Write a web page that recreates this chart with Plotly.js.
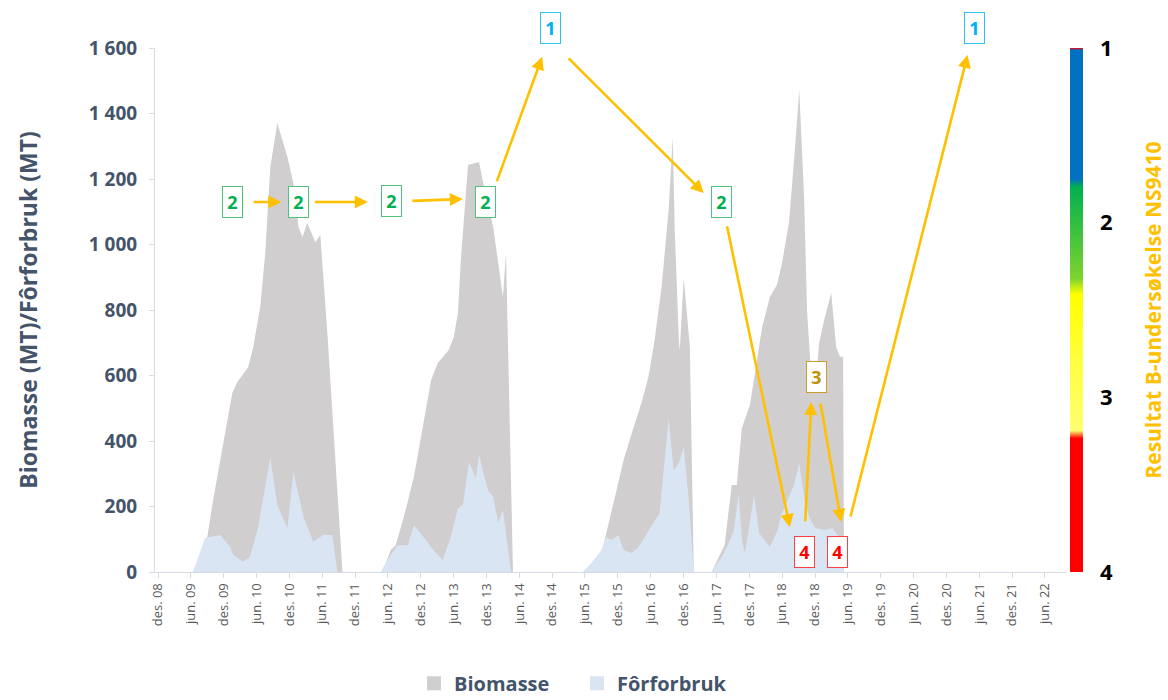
<!DOCTYPE html>
<html><head><meta charset="utf-8">
<script src="https://cdn.plot.ly/plotly-3.0.1.min.js"></script>
<style>html,body{margin:0;padding:0;background:#fff}#chart{width:1168px;height:700px}</style>
</head><body><div id="chart"></div>
<script>
// ---------- DATA ----------
const biomassDates = [
 '2009-06-13','2009-09-01','2009-10-03','2009-11-28','2010-01-18','2010-02-15','2010-04-16','2010-05-13','2010-06-22','2010-07-20','2010-08-17','2010-09-25','2010-11-20','2010-12-23','2011-01-21','2011-02-12','2011-03-10','2011-04-24','2011-05-22','2011-06-30','2011-08-03','2011-09-22',
 '2012-05-02','2012-06-16','2012-07-14','2012-08-28','2012-10-23','2012-12-12','2013-01-27','2013-03-05','2013-05-05','2013-06-02','2013-06-25','2013-07-11','2013-08-20','2013-10-20','2013-11-17','2014-01-07','2014-02-04','2014-03-02','2014-03-19','2014-04-05','2014-04-27',
 '2015-05-22','2015-07-06','2015-09-01','2015-09-28','2015-11-12','2016-01-02','2016-02-16','2016-04-10','2016-05-19','2016-06-22','2016-07-31','2016-09-08','2016-10-01','2016-10-12','2016-11-04','2016-11-09','2016-12-01','2016-12-18','2017-01-04','2017-01-26',
 '2017-05-05','2017-07-16','2017-08-25','2017-09-22','2017-10-20','2017-12-04','2018-01-02','2018-02-10','2018-03-25','2018-05-03','2018-05-31','2018-07-09','2018-08-12','2018-09-04','2018-10-01','2018-10-18','2018-11-10','2018-12-02','2018-12-24','2019-01-21','2019-03-01','2019-03-28','2019-04-19','2019-05-06','2019-05-11'
];
const biomassValues = [
 0,107,220,394,547,580,626,684,809,974,1237,1371,1267,1188,1053,1023,1066,1008,1029,730,424,0,
 0,67,82,168,290,443,586,638,678,718,791,953,1243,1252,1176,1053,943,840,974,577,0,
 0,27,58,119,220,342,424,516,596,708,870,1105,1328,1044,708,678,898,791,687,0,
 0,82,266,266,440,510,608,748,840,876,943,1066,1298,1472,1145,791,600,560,700,770,852,687,657,657,0
];
const feedDates = [
 '2009-06-13','2009-08-19','2009-11-11','2010-01-06','2010-01-23','2010-03-18','2010-04-26','2010-06-10','2010-08-17','2010-09-25','2010-11-20','2010-12-23','2011-02-18','2011-04-13','2011-06-08','2011-07-28','2011-08-25',
 '2012-04-21','2012-06-05','2012-07-25','2012-09-19','2012-10-23','2012-12-29','2013-02-07','2013-04-02','2013-05-16','2013-06-25','2013-07-22','2013-08-25','2013-10-03','2013-10-20','2013-12-09','2014-01-07','2014-02-04','2014-03-02','2014-03-30','2014-04-16',
 '2015-05-22','2015-07-06','2015-09-01','2015-09-28','2015-10-26','2015-12-04','2016-01-02','2016-02-16','2016-03-24','2016-04-27','2016-06-17','2016-07-20','2016-09-08','2016-10-06','2016-11-04','2016-12-01','2016-12-29','2017-01-26',
 '2017-05-05','2017-06-30','2017-08-09','2017-09-06','2017-10-03','2017-10-20','2017-11-07','2017-12-04','2017-12-27','2018-01-24','2018-02-21','2018-03-25','2018-05-03','2018-05-31','2018-07-09','2018-08-06','2018-09-04','2018-10-01','2018-10-29','2018-12-02','2019-01-27','2019-03-06','2019-04-14','2019-05-11'
];
const feedValues = [
 0,104,113,76,52,31,46,137,348,205,134,305,168,92,113,113,0,
 0,43,82,82,143,98,67,37,107,195,205,336,287,357,250,229,150,189,67,0,
 0,27,67,107,98,113,67,58,76,107,153,180,470,311,333,382,220,0,
 0,46,89,128,241,98,58,150,235,119,98,76,122,180,229,266,333,229,168,134,128,134,107,0
];
const xTickVals = ['2008-12-01','2009-06-01','2009-12-01','2010-06-01','2010-12-01','2011-06-01','2011-12-01','2012-06-01','2012-12-01','2013-06-01','2013-12-01','2014-06-01','2014-12-01','2015-06-01','2015-12-01','2016-06-01','2016-12-01','2017-06-01','2017-12-01','2018-06-01','2018-12-01','2019-06-01','2019-12-01','2020-06-01','2020-12-01','2021-06-01','2021-12-01','2022-06-01'];
const xTickText = ['des. 08','jun. 09','des. 09','jun. 10','des. 10','jun. 11','des. 11','jun. 12','des. 12','jun. 13','des. 13','jun. 14','des. 14','jun. 15','des. 15','jun. 16','des. 16','jun. 17','des. 17','jun. 18','des. 18','jun. 19','des. 19','jun. 20','des. 20','jun. 21','des. 21','jun. 22'];
const yTickVals = [0,200,400,600,800,1000,1200,1400,1600];
const yTickText = ['0','200','400','600','800','1 000','1 200','1 400','1 600'];
const scoreTickVals = [1,2,3,4];
const scoreTickText = ['1','2','3','4'];
const seriesNames = ['Biomasse','Fôrforbruk'];
// survey results (B-undersøkelse)
const surveyDates = ['2010-01-21','2011-01-21','2012-06-22','2013-11-23','2014-11-20','2017-06-30','2018-10-01','2018-12-07','2019-04-02','2021-05-06'];
const surveyScores = [2,2,2,2,1,2,4,3,4,1];

// ---------- LAYOUT HELPERS ----------
const labelY = [1130,1130,1133,1130,null,1130,61,595,61,null]; // null => above plot
const scoreColor = {1:'#00B0F0',2:'#00B050',3:'#BF9000',4:'#FF0000'};
const scoreBorder = {1:'#33C0F3',2:'#4CC47E',3:'#C9A02E',4:'#FF4040'};
const arrows = [
 [['2010-05-08',1130],['2010-10-17',1130]],
 [['2011-04-13',1130],['2012-02-10',1130]],
 [['2012-10-06',1133],['2013-07-22',1139]],
 [['2014-01-24',1188],['2014-10-06',1573]],
 [['2015-02-22',1573],['2017-03-22',1157]],
 [['2017-07-28',1060],['2018-07-14',137]],
 [['2018-10-07',150],['2018-11-10',519]],
 [['2018-12-30',519],['2019-04-25',153]],
 [['2019-06-14',165],['2021-03-28',1579]]
];

const FONT = '"Open Sans", sans-serif';
const SLATE = '#44546A';
const GRAYFILL = '#D0CECE';
const BLUEFILL = '#DAE5F3';

const traces = [
 {x:biomassDates, y:biomassValues, type:'scatter', mode:'lines', fill:'tozeroy', fillcolor:GRAYFILL, line:{width:0,color:GRAYFILL}, showlegend:false, hoverinfo:'x+y', name:seriesNames[0]},
 {x:feedDates, y:feedValues, type:'scatter', mode:'lines', fill:'tozeroy', fillcolor:BLUEFILL, line:{width:0,color:BLUEFILL}, showlegend:false, hoverinfo:'x+y', name:seriesNames[1]},
 {x:[null], y:[null], type:'scatter', mode:'markers', marker:{symbol:'square', size:14, color:GRAYFILL}, name:seriesNames[0], showlegend:true},
 {x:[null], y:[null], type:'scatter', mode:'markers', marker:{symbol:'square', size:14, color:BLUEFILL}, name:seriesNames[1], showlegend:true},
 {x:[0,1,1,0,0], y:[scoreTickVals[0],scoreTickVals[0],scoreTickVals[3],scoreTickVals[3],scoreTickVals[0]], xaxis:'x2', yaxis:'y2', type:'scatter', mode:'lines', line:{width:0}, fill:'toself',
  fillgradient:{type:'vertical', start:1, stop:4, colorscale:[[0,'#FF0000'],[0.004,'#0070C0'],[0.25,'#0070C0'],[0.265,'#00B050'],[0.44,'#7ED32E'],[0.47,'#FFFF00'],[0.6,'#FFFF40'],[0.73,'#FFFF70'],[0.745,'#FF0000'],[1,'#FF0000']]},
  hoverinfo:'skip', showlegend:false}
];

const annotations = [];
arrows.forEach(([t,h])=>{
  annotations.push({x:h[0], y:h[1], xref:'x', yref:'y', ax:t[0], ay:t[1], axref:'x', ayref:'y', text:'', showarrow:true,
    arrowcolor:'#FFC000', arrowwidth:2.6, arrowhead:2, arrowsize:1, standoff:0, startstandoff:0});
});
surveyDates.forEach((d,i)=>{
  const s = surveyScores[i];
  const a = {x:d, xref:'x', text:String(s), showarrow:false, xanchor:'center', yanchor:'middle',
    font:{family:FONT, size:18, weight:'bold', color:scoreColor[s]},
    bgcolor:'#FFFFFF', bordercolor:scoreBorder[s], borderwidth:1, borderpad:1, width:17, height:28, align:'center', valign:'middle'};
  if(labelY[i]===null){ a.yref='paper'; a.y=1.038; } else { a.yref='y'; a.y=labelY[i]; }
  annotations.push(a);
});

const layout = {
  width:1168, height:700,
  margin:{l:155, r:85, t:48, b:128},
  paper_bgcolor:'#FFFFFF', plot_bgcolor:'rgba(0,0,0,0)',
  font:{family:FONT},
  showlegend:true,
  xaxis:{type:'date', domain:[0,0.9817], range:['2008-11-14','2022-09-26'], tickvals:xTickVals, ticktext:xTickText, tickangle:-90,
    tickfont:{family:FONT, size:13, color:'#595959'}, showgrid:false, zeroline:false, showline:true, linecolor:'#D6DCE4', linewidth:1,
    ticks:'outside', ticklen:5, tickcolor:'#D6DCE4', automargin:false, fixedrange:true},
  yaxis:{range:[0,1600], tickvals:yTickVals, ticktext:yTickText, tickfont:{family:FONT, size:19, weight:'bold', color:SLATE},
    showgrid:false, zeroline:false, showline:true, linecolor:'#D6DCE4', ticks:'outside', ticklen:5, tickcolor:'#D6DCE4', ticklabelstandoff:8,
    title:{text:'Biomasse (MT)/Fôrforbruk (MT)', font:{family:FONT, size:23, weight:'bold', color:SLATE}, standoff:44}, automargin:false, fixedrange:true},
  xaxis2:{domain:[0.986,1], range:[0,1], visible:false, anchor:'y2', fixedrange:true},
  yaxis2:{domain:[0,1], range:[4,1], anchor:'x2', side:'right', tickvals:scoreTickVals, ticktext:scoreTickText,
    tickfont:{family:FONT, size:22, weight:'bold', color:'#000000'}, showgrid:false, zeroline:false, showline:false, ticks:'', ticklabelstandoff:16,
    title:{text:'Resultat B-undersøkelse NS9410', font:{family:FONT, size:21, weight:'bold', color:'#FFC000'}, standoff:34}, automargin:false, fixedrange:true},
  legend:{orientation:'h', xref:'container', yref:'container', x:0.494, xanchor:'center', y:0.024, yanchor:'middle',
    font:{family:FONT, size:20, weight:'bold', color:SLATE}, itemwidth:30, entrywidth:118, entrywidthmode:'pixels', traceorder:'normal'},
  annotations:annotations
};
Plotly.newPlot('chart', traces, layout, {displayModeBar:false, staticPlot:true});
</script></body></html>
